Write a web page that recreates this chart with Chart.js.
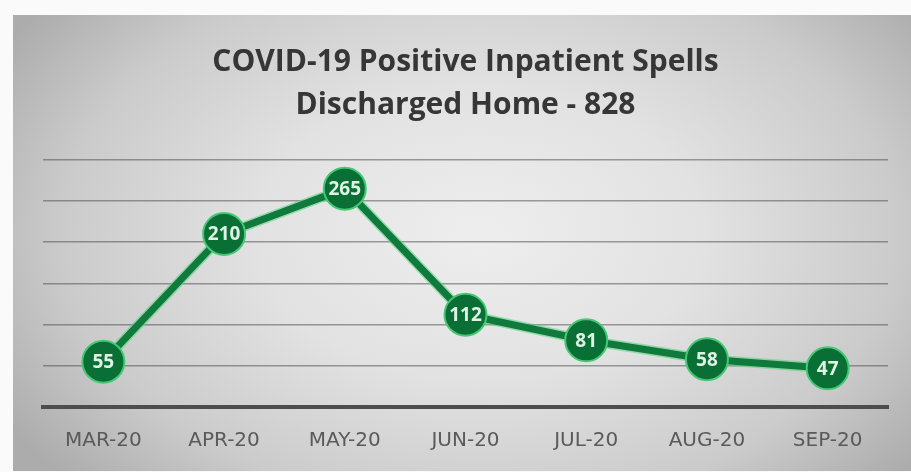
<!DOCTYPE html>
<html>
<head>
<meta charset="utf-8">
<script src="https://cdn.jsdelivr.net/npm/chart.js@4.4.1/dist/chart.umd.min.js"></script>
<style>
    html, body { margin: 0; padding: 0; background: #fafafa; }
    #panel {
        position: absolute;
        left: 13px;
        top: 15px;
        width: 898px;
        height: 456px;
        background: radial-gradient(ellipse 62% 80% at 52% 48%, #eeeeee 0%, #e2e2e2 40%, #cbcbcb 75%, #acacac 100%);
    }
    canvas { display: block; }
</style>
</head>
<body>
<div id="panel"><canvas id="lineChart" width="898" height="456"></canvas></div>
<script>
    const months = ["MAR-20", "APR-20", "MAY-20", "JUN-20", "JUL-20", "AUG-20", "SEP-20"];
    const discharged = [55, 210, 265, 112, 81, 58, 47];
    const titleLines = ["COVID-19 Positive Inpatient Spells", "Discharged Home - 828"];

    // Escreve o valor dentro de cada ponto
    const valueLabels = {
        id: "valueLabels",
        afterDatasetsDraw(chart) {
            const ctx = chart.ctx;
            const meta = chart.getDatasetMeta(1);
            ctx.save();
            ctx.font = "bold 19px 'Open Sans'";
            ctx.fillStyle = "#dff3e4";
            ctx.textAlign = "center";
            ctx.textBaseline = "middle";
            meta.data.forEach((pt, i) => {
                ctx.fillText(discharged[i], pt.x, pt.y + 1);
            });
            ctx.restore();
        }
    };

    const ctx = document.getElementById("lineChart").getContext("2d");
    new Chart(ctx, {
        type: "line",
        data: {
            labels: months,
            datasets: [{
                // brilho verde claro por baixo da linha
                data: discharged,
                order: 1,
                borderColor: "rgba(90, 210, 130, 0.6)",
                borderWidth: 10,
                pointRadius: 0,
                fill: false,
            }, {
                data: discharged,
                order: 0,
                borderColor: "#0f7a3b",
                borderWidth: 7,
                pointRadius: 21,
                pointBorderWidth: 2,
                pointBackgroundColor: "#0a6f35",
                pointBorderColor: "#45c775",
                fill: false,
            }],
        },
        options: {
            responsive: false,
            animation: false,
            layout: { padding: { left: 30, right: 23, top: 0, bottom: -4 } },
            plugins: {
                legend: { display: false },
                tooltip: { enabled: false },
                title: {
                    display: true,
                    text: titleLines,
                    color: "#363636",
                    font: { family: "Open Sans", size: 30, weight: "bold", lineHeight: 1.43 },
                    padding: { top: 26, bottom: 33 },
                },
            },
            scales: {
                x: {
                    offset: true,
                    grid: { display: false, drawTicks: false },
                    border: { display: true, color: "#4d4d4d", width: 4 },
                    ticks: {
                        color: "#5a5a5a",
                        padding: 22,
                        font: { family: "DejaVu Sans", size: 20 },
                    },
                },
                y: {
                    min: 0,
                    max: 300,
                    ticks: { display: false, stepSize: 50 },
                    border: { display: false },
                    grid: { color: "rgba(70, 70, 70, 0.5)", lineWidth: 1.5, drawTicks: false },
                },
            },
        },
        plugins: [valueLabels],
    });
</script>
</body>
</html>
